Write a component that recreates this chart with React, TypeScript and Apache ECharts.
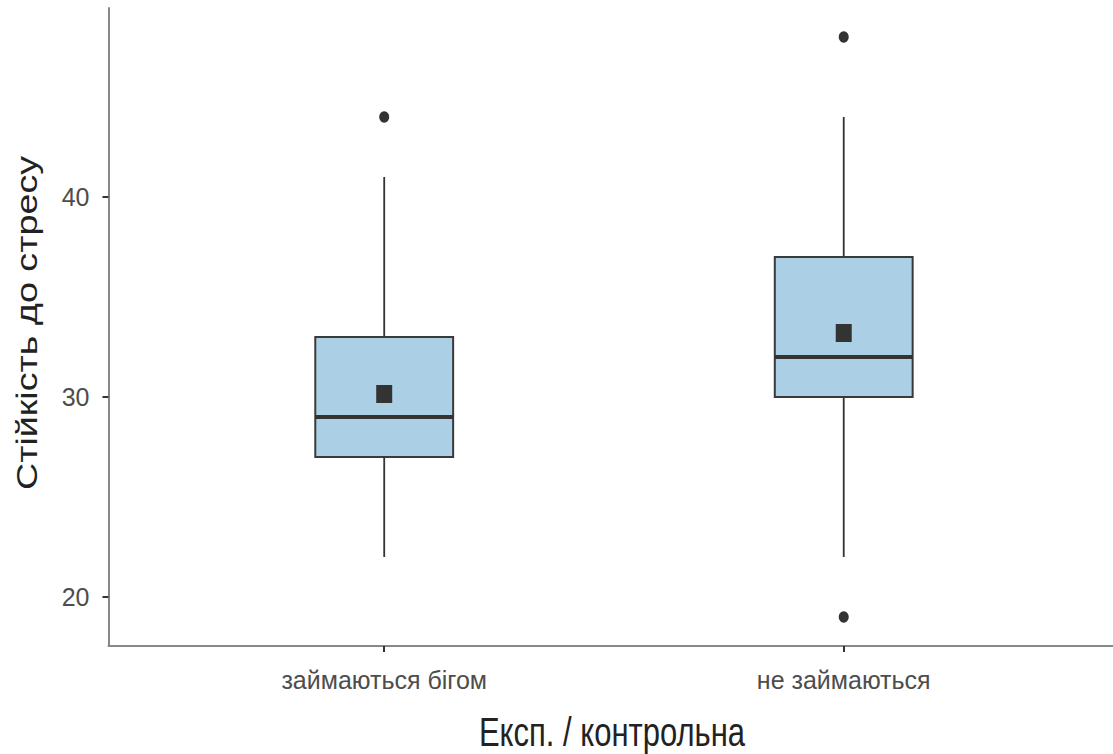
import React, { useEffect, useRef } from "react";
import * as echarts from "echarts";

const categories = ["займаються бігом", "не займаються"];
const lowerWhisker = [22, 22];
const q1 = [27, 30];
const medians = [29, 32];
const q3 = [33, 37];
const upperWhisker = [41, 44];
const means = [30.15, 33.2];
const outlierGroup = [1, 2, 2];
const outlierValue = [44, 48, 19];
const yTicks = [20, 30, 40];
const xTitle = "Експ. / контрольна";
const yTitle = "Стійкість до стресу";

const FONT = "'Liberation Sans', Arial, sans-serif";
const DARK = "#333333";

export default function App() {
  const ref = useRef<HTMLDivElement>(null);
  useEffect(() => {
    document.body.style.margin = "0";
    const chart = echarts.init(ref.current!, null, { renderer: "svg" });
    const boxData = categories.map((_, i) => [
      i + 1,
      lowerWhisker[i],
      q1[i],
      medians[i],
      q3[i],
      upperWhisker[i],
    ]);
    const meanData = categories.map((_, i) => [i + 1, means[i]]);
    const outData = outlierGroup.map((g, i) => [g, outlierValue[i]]);
    chart.setOption({
      animation: false,
      backgroundColor: "#ffffff",
      grid: { left: 108.5, top: 8, right: 0, height: 638, containLabel: false },
      graphic: [
        {
          type: "text",
          x: 612,
          y: 732,
          scaleY: 1.3,
          style: {
            text: xTitle,
            fontFamily: FONT,
            fontSize: 31,
            fill: "#222",
            align: "center",
            verticalAlign: "middle",
          },
        },
        {
          type: "text",
          x: 27,
          y: 323,
          rotation: Math.PI / 2,
          scaleX: 1.3,
          style: {
            text: yTitle,
            fontFamily: FONT,
            fontSize: 29,
            fill: "#222",
            align: "center",
            verticalAlign: "middle",
          },
        },
      ],
      xAxis: {
        type: "value",
        min: 0.4,
        max: 2.586,
        axisLine: { show: true, lineStyle: { color: "#888", width: 2 } },
        axisTick: {
          show: true,
          customValues: [1, 2],
          length: 6,
          lineStyle: { color: DARK, width: 2 },
        },
        axisLabel: {
          customValues: [1, 2],
          formatter: (v: number) => categories[Math.round(v) - 1] ?? "",
          margin: 21,
          fontFamily: FONT,
          fontSize: 25,
          color: "#4d4d4d",
        },
        splitLine: { show: false },
      },
      yAxis: {
        type: "value",
        min: 17.55,
        max: 49.45,
        axisLine: { show: true, lineStyle: { color: "#888", width: 2 } },
        axisTick: {
          show: true,
          customValues: yTicks,
          length: 6,
          lineStyle: { color: DARK, width: 2 },
        },
        axisLabel: {
          customValues: yTicks,
          margin: 19,
          fontFamily: FONT,
          fontSize: 25,
          color: "#4d4d4d",
        },
        splitLine: { show: false },
      },
      series: [
        {
          type: "custom",
          data: boxData,
          encode: { x: 0, y: [1, 2, 3, 4, 5] },
          renderItem: (params: any, api: any) => {
            const x = api.value(0);
            const half = api.size([0.15, 0])[0];
            const pLow = api.coord([x, api.value(1)]);
            const pQ1 = api.coord([x, api.value(2)]);
            const pMed = api.coord([x, api.value(3)]);
            const pQ3 = api.coord([x, api.value(4)]);
            const pHigh = api.coord([x, api.value(5)]);
            return {
              type: "group",
              children: [
                {
                  type: "line",
                  shape: { x1: pHigh[0], y1: pHigh[1], x2: pQ3[0], y2: pQ3[1] },
                  style: { stroke: DARK, lineWidth: 1.8 },
                },
                {
                  type: "line",
                  shape: { x1: pQ1[0], y1: pQ1[1], x2: pLow[0], y2: pLow[1] },
                  style: { stroke: DARK, lineWidth: 1.8 },
                },
                {
                  type: "rect",
                  shape: {
                    x: pQ3[0] - half,
                    y: pQ3[1],
                    width: half * 2,
                    height: pQ1[1] - pQ3[1],
                  },
                  style: { fill: "#abd0e5", stroke: "#3a3a3a", lineWidth: 2 },
                },
                {
                  type: "line",
                  shape: { x1: pMed[0] - half, y1: pMed[1], x2: pMed[0] + half, y2: pMed[1] },
                  style: { stroke: DARK, lineWidth: 4 },
                },
              ],
            };
          },
          z: 2,
        },
        {
          type: "scatter",
          data: meanData,
          symbol: "rect",
          symbolSize: [16, 18],
          itemStyle: { color: DARK, opacity: 1 },
          z: 3,
        },
        {
          type: "scatter",
          data: outData,
          symbol: "circle",
          symbolSize: [10, 11.5],
          itemStyle: { color: DARK, opacity: 1 },
          z: 3,
        },
      ],
    });
    return () => chart.dispose();
  }, []);
  return <div ref={ref} style={{ width: 1113, height: 754 }} />;
}
